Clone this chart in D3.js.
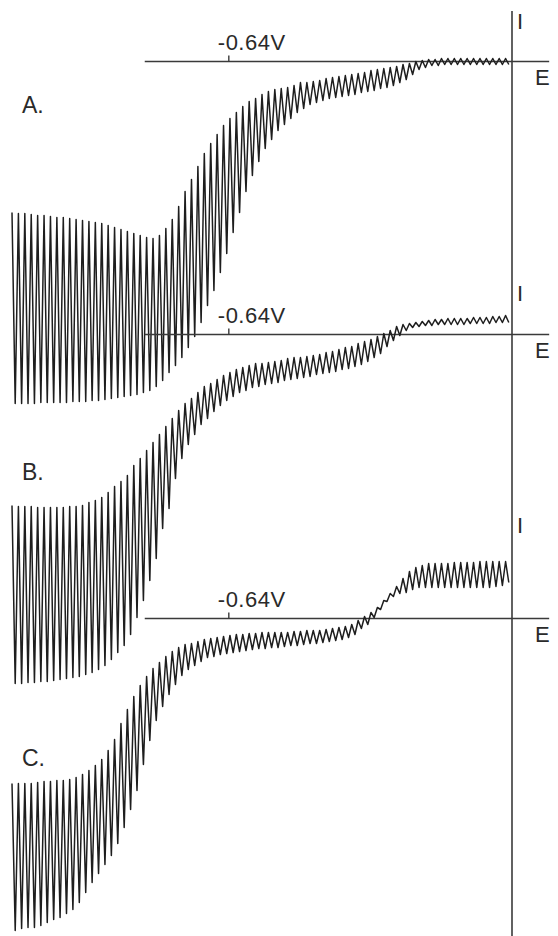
<!DOCTYPE html>
<html>
<head>
<meta charset="utf-8">
<script src="https://cdn.jsdelivr.net/npm/d3@7"></script>
<style>
  body { margin: 0; background: #fff; }
  text { font-family: "Liberation Sans", Arial, sans-serif; fill: #2a2a2a; }
</style>
</head>
<body>
<script>
// potential scan (V) and drop count
const scanStart = -1.13;
const scanEnd = 0;
const dropCount = 78;
const tickPotential = -0.64;
const tickLabel = "-0.64V";
const panelNames = ["A.", "B.", "C."];

// current at drop birth (top) and drop fall (bottom), arbitrary units, one per drop
const topA = [-15.1, -15.2, -15.2, -15.3, -15.4, -15.4, -15.5, -15.6, -15.6, -15.7,
  -15.8, -15.9, -16.0, -16.1, -16.2, -16.4, -16.6, -16.8, -17.0, -17.2,
  -17.4, -17.6, -17.7, -17.4, -16.7, -15.8, -14.5, -13.0, -11.8, -10.5,
  -9.2, -8.2, -7.3, -6.4, -5.7, -5.1, -4.5, -4.0, -3.7, -3.3,
  -3.0, -2.8, -2.7, -2.6, -2.4, -2.1, -2.1, -2.0, -1.9, -1.7,
  -1.6, -1.5, -1.4, -1.3, -1.2, -1.1, -0.9, -0.8, -0.7, -0.6,
  -0.5, -0.3, -0.2, 0.0, 0.1, 0.2, 0.2, 0.3, 0.3, 0.3,
  0.3, 0.3, 0.3, 0.3, 0.3, 0.3, 0.3, 0.3];
const botA = [-34.2, -34.2, -34.2, -34.2, -34.1, -34.1, -34.1, -34.1, -34.1, -34.0,
  -34.0, -34.0, -33.9, -33.9, -33.8, -33.7, -33.6, -33.5, -33.4, -33.3,
  -33.1, -32.9, -32.5, -31.9, -31.1, -30.4, -29.6, -28.6, -27.5, -26.1,
  -24.4, -22.9, -21.1, -19.2, -17.1, -15.1, -13.0, -11.4, -10.0, -8.7,
  -7.8, -6.9, -6.3, -5.7, -5.1, -4.7, -4.3, -4.1, -3.9, -3.7,
  -3.6, -3.5, -3.4, -3.3, -3.1, -3.0, -2.9, -2.7, -2.6, -2.4,
  -2.1, -1.8, -1.3, -0.8, -0.6, -0.4, -0.4, -0.3, -0.3, -0.3,
  -0.3, -0.3, -0.3, -0.3, -0.3, -0.3, -0.3, -0.3];

const topB = [-17.1, -17.2, -17.2, -17.2, -17.3, -17.3, -17.3, -17.3, -17.3, -17.2,
  -17.2, -17.1, -16.8, -16.6, -16.3, -15.8, -15.2, -14.7, -14.1, -13.1,
  -12.4, -11.6, -10.8, -10.0, -9.2, -8.4, -7.6, -6.9, -6.4, -5.8,
  -5.2, -4.9, -4.5, -4.1, -3.8, -3.5, -3.3, -3.1, -2.9, -2.9,
  -2.8, -2.7, -2.6, -2.4, -2.3, -2.3, -2.2, -2.1, -2.0, -1.8,
  -1.7, -1.5, -1.3, -1.2, -0.9, -0.7, -0.5, -0.2, 0.1, 0.4,
  0.8, 1.0, 1.1, 1.2, 1.3, 1.4, 1.5, 1.5, 1.6, 1.6,
  1.6, 1.6, 1.7, 1.7, 1.7, 1.8, 1.8, 1.9];
const botB = [-34.9, -34.9, -34.8, -34.8, -34.7, -34.7, -34.6, -34.5, -34.4, -34.3,
  -34.2, -34.0, -33.8, -33.5, -33.1, -32.5, -31.8, -31.1, -30.0, -28.3,
  -26.6, -24.6, -22.4, -19.4, -17.4, -14.4, -12.4, -11.0, -10.0, -9.0,
  -8.4, -7.7, -7.1, -6.6, -6.2, -5.8, -5.6, -5.3, -5.2, -5.0,
  -4.9, -4.8, -4.6, -4.5, -4.4, -4.3, -4.2, -4.0, -3.9, -3.8,
  -3.7, -3.5, -3.4, -3.2, -3.0, -2.7, -2.3, -1.9, -1.2, -0.6,
  -0.1, 0.4, 0.7, 0.8, 0.9, 0.9, 1.0, 1.0, 1.0, 1.0,
  1.0, 1.1, 1.1, 1.1, 1.1, 1.2, 1.2, 1.2];

const topC = [-16.5, -16.5, -16.5, -16.5, -16.4, -16.3, -16.3, -16.2, -16.2, -16.1,
  -15.9, -15.6, -15.2, -14.7, -14.1, -13.2, -12.1, -10.5, -9.1, -7.8,
  -6.7, -5.8, -5.0, -4.4, -3.8, -3.3, -2.9, -2.6, -2.5, -2.3,
  -2.1, -2.0, -1.9, -1.8, -1.7, -1.6, -1.6, -1.5, -1.5, -1.4,
  -1.4, -1.4, -1.4, -1.4, -1.3, -1.3, -1.2, -1.2, -1.2, -1.1,
  -1.0, -0.9, -0.8, -0.6, -0.2, 0.2, 0.6, 1.1, 1.8, 2.5,
  3.2, 4.0, 4.7, 5.1, 5.3, 5.5, 5.5, 5.5, 5.5, 5.6,
  5.6, 5.6, 5.6, 5.7, 5.7, 5.7, 5.7, 5.7];
const botC = [-31.2, -31.0, -30.9, -30.9, -30.7, -30.4, -30.1, -29.9, -29.5, -29.1,
  -28.4, -27.4, -26.4, -25.5, -24.6, -23.7, -22.5, -20.9, -19.1, -17.2,
  -14.6, -12.2, -10.2, -8.8, -7.6, -6.6, -5.7, -5.1, -4.7, -4.3,
  -3.9, -3.8, -3.6, -3.5, -3.4, -3.3, -3.2, -3.1, -3.0, -3.0,
  -2.9, -2.9, -2.8, -2.7, -2.7, -2.6, -2.5, -2.5, -2.4, -2.3,
  -2.2, -2.1, -1.9, -1.6, -1.0, -0.6, 0.1, 0.9, 1.7, 2.2,
  2.5, 2.6, 2.9, 3.1, 3.1, 3.1, 3.1, 3.1, 3.1, 3.1,
  3.1, 3.1, 3.1, 3.1, 3.1, 3.2, 3.3, 3.6];

const tops = [topA, topB, topC];
const bots = [botA, botB, botC];

// layout
const width = 558, height = 936;
const axisRows = [61.5, 334.5, 618.5];   // y of the zero-current line in each panel
const iLabelOffset = [-33, -34, -86];    // where the "I" sits above each E axis
const nameRows = [113, 480, 766];
const axisEMin = -0.83, axisEMax = 0.084;

const x_scale = d3.scaleLinear()
  .domain([scanStart, scanEnd])
  .range([12, 512]);

const svg = d3.select("body")
  .append("svg")
  .attr("width", width)
  .attr("height", height);

// vertical current axis (E = 0)
svg.append("line")
  .attr("x1", x_scale(0)).attr("x2", x_scale(0))
  .attr("y1", 11).attr("y2", height)
  .attr("stroke", "#3a3a3a")
  .attr("stroke-width", 1.6);

const step = (scanEnd - scanStart) / dropCount;

axisRows.forEach(function(ay, p) {
  const y_scale = d3.scaleLinear().domain([0, -10]).range([ay, ay + 100]);

  // potential axis
  svg.append("line")
    .attr("x1", x_scale(axisEMin)).attr("x2", x_scale(axisEMax))
    .attr("y1", ay).attr("y2", ay)
    .attr("stroke", "#3a3a3a")
    .attr("stroke-width", 1.6);

  svg.append("line")
    .attr("x1", x_scale(tickPotential)).attr("x2", x_scale(tickPotential))
    .attr("y1", ay).attr("y2", ay - 6)
    .attr("stroke", "#3a3a3a")
    .attr("stroke-width", 1.4);

  svg.append("text")
    .attr("x", x_scale(tickPotential) - 11)
    .attr("y", ay - 12)
    .style("font-size", "22px")
    .style("letter-spacing", "0.5px")
    .text(tickLabel);

  svg.append("text")
    .attr("x", x_scale(0) + 5)
    .attr("y", ay + iLabelOffset[p])
    .style("font-size", "22px")
    .text("I");

  svg.append("text")
    .attr("x", x_scale(0) + 23)
    .attr("y", ay + 23)
    .style("font-size", "22px")
    .text("E");

  svg.append("text")
    .attr("x", 22)
    .attr("y", nameRows[p])
    .style("font-size", "23px")
    .text(panelNames[p]);

  // drop-by-drop trace: birth current then fall current
  const pts = [];
  tops[p].forEach(function(v, i) {
    const e = scanStart + i * step;
    pts.push([e, v]);
    pts.push([e + step / 2, bots[p][i]]);
  });

  const line = d3.line()
    .x(function(d) { return x_scale(d[0]); })
    .y(function(d) { return y_scale(d[1]); });

  svg.append("path")
    .datum(pts)
    .attr("fill", "none")
    .attr("stroke", "#1e1e1e")
    .attr("stroke-width", 1.5)
    .attr("stroke-linejoin", "round")
    .attr("d", line);
});
</script>
</body>
</html>
